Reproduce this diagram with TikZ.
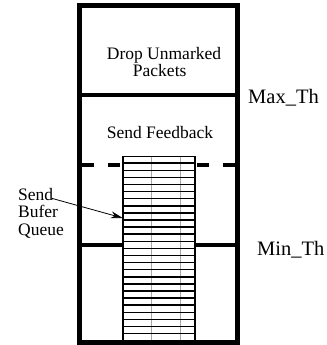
\documentclass[tikz,border=0pt]{standalone}
\usepackage{fontspec}
\setmainfont{Liberation Serif}
\usetikzlibrary{arrows.meta,calc}
\begin{document}
\begin{tikzpicture}[x=1bp,y=-1bp,
  lbl/.style={font=\fontsize{17.5bp}{17.5bp}\selectfont, inner sep=0pt},
  thl/.style={font=\fontsize{20.5bp}{20.5bp}\selectfont, inner sep=0pt},
  wall/.style={line width=5bp},
  level/.style={line width=4bp},
  slot/.style={line width=1.5bp},
  divider/.style={line width=0.5bp, gray!70},
]
\useasboundingbox (0,0) rectangle (327,345);
% box corners
\coordinate (tl) at (79.5,5.8);
\coordinate (br) at (237.5,342.5);
% threshold levels
\draw[level] (82,95) -- (235,95);
\draw[level] (82,245) -- (235,245);
\draw[level, dash pattern=on 12bp off 14bp] (82,165) -- (130,165);
\draw[level, dash pattern=on 12bp off 14bp] (235,165) -- (187,165);
% queue
\node[draw, fill=white, line width=1.2bp, minimum width=71bp, minimum height=184.6bp, inner sep=0pt] (queue) at (158.8,249) {};
\draw[divider] ($(queue.north west)+(29,0)$) -- ($(queue.south west)+(29,0)$);
\draw[divider] ($(queue.north west)+(57.4,0)$) -- ($(queue.south west)+(57.4,0)$);
\foreach \i in {1,...,25}
  \draw[slot] ($(queue.north west)+(0,\i*7.1)$) -- ($(queue.north east)+(0,\i*7.1)$);
\draw[line width=1.2bp] (queue.north west) rectangle (queue.south east);
% outer box
\draw[wall] (tl) rectangle (br);
% texts
\node[lbl, anchor=base] (drop1) at (164,59.5) {Drop Unmarked};
\node[lbl, anchor=base] (drop2) at (159.7,76.3) {Packets};
\node[thl, anchor=base west] (maxth) at (248,103.3) {Max\_Th};
\node[lbl, anchor=base] (feedback) at (160,138.3) {Send Feedback};
\node[lbl, anchor=base west, align=left] (sbq) at (18,235) {Send\\Bufer\\Queue};
\node[thl, anchor=base west] (minth) at (257,255) {Min\_Th};
% arrow
\coordinate (arrstart) at (51.7,198.3);
\coordinate (arrend) at ($(queue.west)+(0,-31)$);
\draw[-{Stealth[length=12bp,width=7bp]}, line width=0.8bp] (arrstart) -- (arrend);
\end{tikzpicture}
\end{document}
